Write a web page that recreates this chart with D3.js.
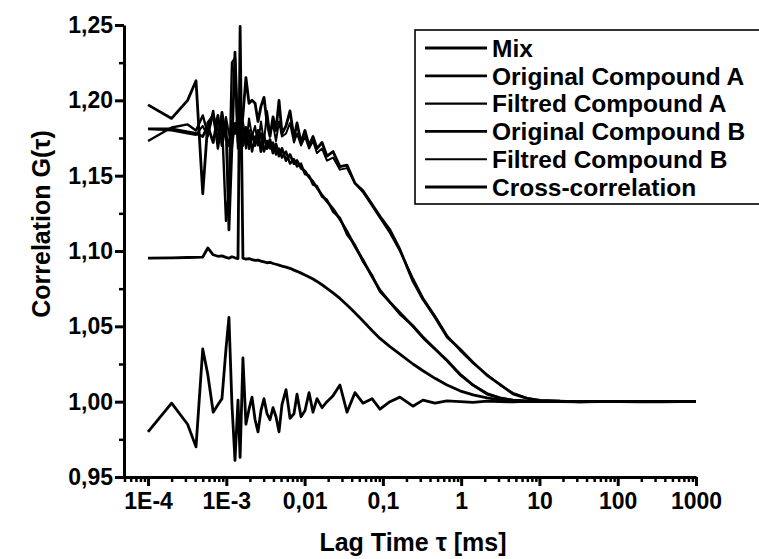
<!DOCTYPE html>
<html>
<head>
<meta charset="utf-8">
<script src="https://cdn.jsdelivr.net/npm/d3@7"></script>
<style>
  body { margin: 0; background: #fff; }
  svg { display: block; }
  text { font-family: "Liberation Sans", Arial, sans-serif; font-weight: bold; fill: #000; }
</style>
</head>
<body>
<svg id="chart" width="759" height="559"></svg>
<script>
// lag times (ms), shared by all curves
var tau = [1e-4, 2e-4, 3.2e-4, 4.1e-4, 5e-4, 5.8e-4, 6.8e-4, 7.8e-4, 8.8e-4, 9.9e-4,
  1.08e-3, 1.18e-3, 1.29e-3, 1.41e-3, 1.5e-3, 1.63e-3, 1.78e-3, 1.95e-3, 2.13e-3, 2.33e-3,
  2.54e-3, 2.77e-3, 3.03e-3, 3.31e-3, 3.61e-3, 3.95e-3, 4.31e-3, 4.71e-3, 5.14e-3, 5.79e-3,
  6.51e-3, 7.32e-3, 8e-3, 9e-3, 0.0101, 0.0114, 0.0128, 0.0144, 0.0167, 0.0193,
  0.0231, 0.0283, 0.0348, 0.044, 0.0557, 0.0726, 0.0918, 0.123, 0.165, 0.242,
  0.325, 0.463, 0.659, 0.965, 1.42, 2.14, 3.13, 4.59, 6.92, 10.2,
  18.3, 32.9, 59.3, 107, 192, 346, 623, 1000];

var gMix = [1.0953, 1.0955, 1.0957, 1.0958, 1.0960, 1.1020, 1.0975, 1.0965, 1.0968, 1.0958,
  1.0952, 1.0962, 1.0955, 1.0950, 1.2490, 1.0952, 1.0946, 1.0950, 1.0943, 1.0938,
  1.0940, 1.0933, 1.0928, 1.0922, 1.0925, 1.0917, 1.0912, 1.0906, 1.0900, 1.0893,
  1.0885, 1.0873, 1.0865, 1.0853, 1.0841, 1.0828, 1.0814, 1.0798, 1.0776, 1.0752,
  1.0722, 1.0685, 1.0642, 1.0590, 1.0535, 1.0472, 1.0420, 1.0365, 1.0315, 1.0250,
  1.0205, 1.0155, 1.0110, 1.0072, 1.0045, 1.0025, 1.0012, 1.0005, 1.0002, 1.0001,
  1.0003, 0.9999, 1.0002, 1.0000, 0.9999, 1.0001, 1.0000, 1.0000];

var gOrigA = [1.181, 1.181, 1.179, 1.178, 1.176, 1.183, 1.172, 1.190, 1.170, 1.185,
  1.114, 1.170, 1.232, 1.172, 1.185, 1.170, 1.182, 1.168, 1.178, 1.170,
  1.180, 1.166, 1.176, 1.168, 1.174, 1.165, 1.171, 1.163, 1.168, 1.160,
  1.164, 1.158, 1.160, 1.155, 1.153, 1.149, 1.146, 1.142, 1.137, 1.133,
  1.128, 1.121, 1.113, 1.103, 1.094, 1.083, 1.074, 1.066, 1.059, 1.050,
  1.0425, 1.035, 1.0275, 1.018, 1.011, 1.005, 1.0025, 1.001, 1.0004, 1.0002,
  1.0001, 1.0, 1.0, 1.0, 1.0, 1.0, 1.0, 1.0];

var gFiltA = [1.173, 1.182, 1.184, 1.180, 1.190, 1.178, 1.193, 1.168, 1.186, 1.120,
  1.140, 1.225, 1.228, 1.168, 1.178, 1.184, 1.172, 1.180, 1.166, 1.176,
  1.172, 1.178, 1.166, 1.173, 1.168, 1.172, 1.164, 1.168, 1.162, 1.166,
  1.158, 1.161, 1.156, 1.158, 1.151, 1.150, 1.144, 1.143, 1.136, 1.134,
  1.126, 1.122, 1.111, 1.104, 1.093, 1.084, 1.073, 1.066, 1.058, 1.0505,
  1.043, 1.035, 1.027, 1.0185, 1.011, 1.0055, 1.0025, 1.001, 1.0005, 1.0002,
  1.0, 1.0001, 1.0, 1.0, 1.0, 1.0, 1.0, 1.0];

var gOrigB = [1.197, 1.188, 1.200, 1.213, 1.138, 1.185, 1.190, 1.172, 1.192, 1.176,
  1.170, 1.186, 1.178, 1.190, 1.172, 1.190, 1.215, 1.198, 1.200, 1.198,
  1.186, 1.196, 1.202, 1.185, 1.176, 1.189, 1.180, 1.200, 1.178, 1.183,
  1.193, 1.175, 1.185, 1.172, 1.180, 1.170, 1.176, 1.168, 1.172, 1.163,
  1.166, 1.156, 1.157, 1.145, 1.140, 1.131, 1.123, 1.114, 1.101, 1.080,
  1.068, 1.056, 1.043, 1.035, 1.026, 1.0175, 1.0115, 1.0052, 1.0022, 1.0009,
  1.0003, 1.0, 1.0, 1.0, 1.0, 1.0, 1.0, 1.0];

var gFiltB = [1.181, 1.180, 1.178, 1.177, 1.183, 1.176, 1.191, 1.180, 1.172, 1.189,
  1.178, 1.168, 1.185, 1.176, 1.174, 1.186, 1.168, 1.188, 1.176, 1.183,
  1.170, 1.186, 1.172, 1.193, 1.178, 1.184, 1.173, 1.186, 1.176, 1.178,
  1.185, 1.172, 1.178, 1.170, 1.176, 1.168, 1.173, 1.165, 1.168, 1.160,
  1.162, 1.154, 1.155, 1.145, 1.139, 1.130, 1.122, 1.112, 1.100, 1.082,
  1.069, 1.057, 1.044, 1.034, 1.0255, 1.018, 1.011, 1.0058, 1.0025, 1.001,
  1.0004, 1.0001, 1.0, 1.0, 1.0, 1.0, 1.0, 1.0];

var gCross = [0.980, 0.999, 0.985, 0.970, 1.035, 1.018, 0.993, 0.998, 1.002, 1.035,
  1.056, 0.998, 0.961, 1.001, 0.963, 1.029, 0.985, 0.995, 1.003, 0.988,
  0.980, 0.994, 1.002, 0.992, 0.988, 0.996, 0.990, 0.980, 0.998, 1.008,
  0.989, 0.992, 1.005, 0.990, 0.994, 1.006, 0.993, 1.002, 0.996, 1.000,
  1.004, 1.011, 0.993, 1.006, 0.999, 1.002, 0.995, 1.000, 1.003, 0.997,
  1.001, 0.999, 1.0005, 1.0, 0.9995, 1.0003, 1.0, 0.9998, 1.0002, 1.0,
  1.0001, 0.9999, 1.0, 1.0002, 1.0, 0.9999, 1.0, 1.0];

var seriesNames = ["Mix", "Original Compound A", "Filtred Compound A",
  "Original Compound B", "Filtred Compound B", "Cross-correlation"];
var seriesValues = [gMix, gOrigA, gFiltA, gOrigB, gFiltB, gCross];
var seriesWidths = [2.8, 2.8, 2.4, 2.8, 2.0, 2.8];

var xTickValues = [1e-4, 1e-3, 0.01, 0.1, 1, 10, 100, 1000];
var xTickLabels = ["1E-4", "1E-3", "0,01", "0,1", "1", "10", "100", "1000"];
var yTickValues = [0.95, 1.00, 1.05, 1.10, 1.15, 1.20, 1.25];

var svg = d3.select("#chart");

var x = d3.scaleLog().domain([4.93e-5, 1000]).range([124, 696]);
var y = d3.scaleLinear().domain([0.95, 1.25]).range([477, 25]);

// minor ticks
var xMinor = [];
for (var e = -5; e < 3; e++) {
  for (var m = 2; m <= 9; m++) {
    var v = m * Math.pow(10, e);
    if (v >= 4.93e-5 && v <= 1000) xMinor.push(v);
  }
}
var yMinor = [0.975, 1.025, 1.075, 1.125, 1.175, 1.225];

var fmtComma = function(d){ return d3.format(".2f")(d).replace(".", ","); };

svg.append("g")
  .attr("transform", "translate(0,477)")
  .call(d3.axisBottom(x).tickValues(xMinor).tickSize(5).tickSizeOuter(0).tickFormat(""))
  .call(function(g){ g.select(".domain").remove(); g.selectAll("line").attr("stroke-width", 2.5); });

svg.append("g")
  .attr("transform", "translate(124,0)")
  .call(d3.axisLeft(y).tickValues(yMinor).tickSize(5).tickSizeOuter(0).tickFormat(""))
  .call(function(g){ g.select(".domain").remove(); g.selectAll("line").attr("stroke-width", 2.5); });

var xAxis = svg.append("g")
  .attr("transform", "translate(0,477)")
  .call(d3.axisBottom(x).tickValues(xTickValues).tickSize(9).tickSizeOuter(0)
    .tickFormat(function(d, i){ return xTickLabels[i]; }));
xAxis.select(".domain").attr("stroke-width", 3);
xAxis.selectAll(".tick line").attr("stroke-width", 3);
xAxis.selectAll(".tick text").attr("font-size", 23).attr("font-family", null).attr("y", 16).attr("dy", "0.71em");

var yAxis = svg.append("g")
  .attr("transform", "translate(124,0)")
  .call(d3.axisLeft(y).tickValues(yTickValues).tickSize(9).tickSizeOuter(0).tickFormat(fmtComma));
yAxis.select(".domain").attr("stroke-width", 3);
yAxis.selectAll(".tick line").attr("stroke-width", 3);
yAxis.selectAll(".tick text").attr("font-size", 23).attr("font-family", null).attr("x", -11);

// curves
var line = d3.line()
  .x(function(d){ return x(d[0]); })
  .y(function(d){ return y(d[1]); });

seriesValues.forEach(function(vals, i){
  svg.append("path")
    .datum(tau.map(function(t, j){ return [t, vals[j]]; }))
    .attr("fill", "none")
    .attr("stroke", "#000")
    .attr("stroke-width", seriesWidths[i])
    .attr("stroke-linejoin", "round")
    .attr("d", line);
});

// axis titles
svg.append("text")
  .attr("x", 413).attr("y", 551)
  .attr("text-anchor", "middle")
  .attr("font-size", 25)
  .text("Lag Time \u03c4 [ms]");

svg.append("text")
  .attr("transform", "translate(50,224) rotate(-90)")
  .attr("text-anchor", "middle")
  .attr("font-size", 25)
  .text("Correlation G(\u03c4)");

// legend
var legend = svg.append("g");
legend.append("rect")
  .attr("x", 415).attr("y", 30).attr("width", 360).attr("height", 174)
  .attr("fill", "#fff").attr("stroke", "#000").attr("stroke-width", 1.6);

seriesNames.forEach(function(name, i){
  var ly = 48 + i * 27.8;
  legend.append("line")
    .attr("x1", 425).attr("x2", 487).attr("y1", ly).attr("y2", ly)
    .attr("stroke", "#000").attr("stroke-width", seriesWidths[i]);
  legend.append("text")
    .attr("x", 492).attr("y", ly).attr("dy", "0.36em")
    .attr("font-size", 24.5)
    .text(name);
});
</script>
</body>
</html>
